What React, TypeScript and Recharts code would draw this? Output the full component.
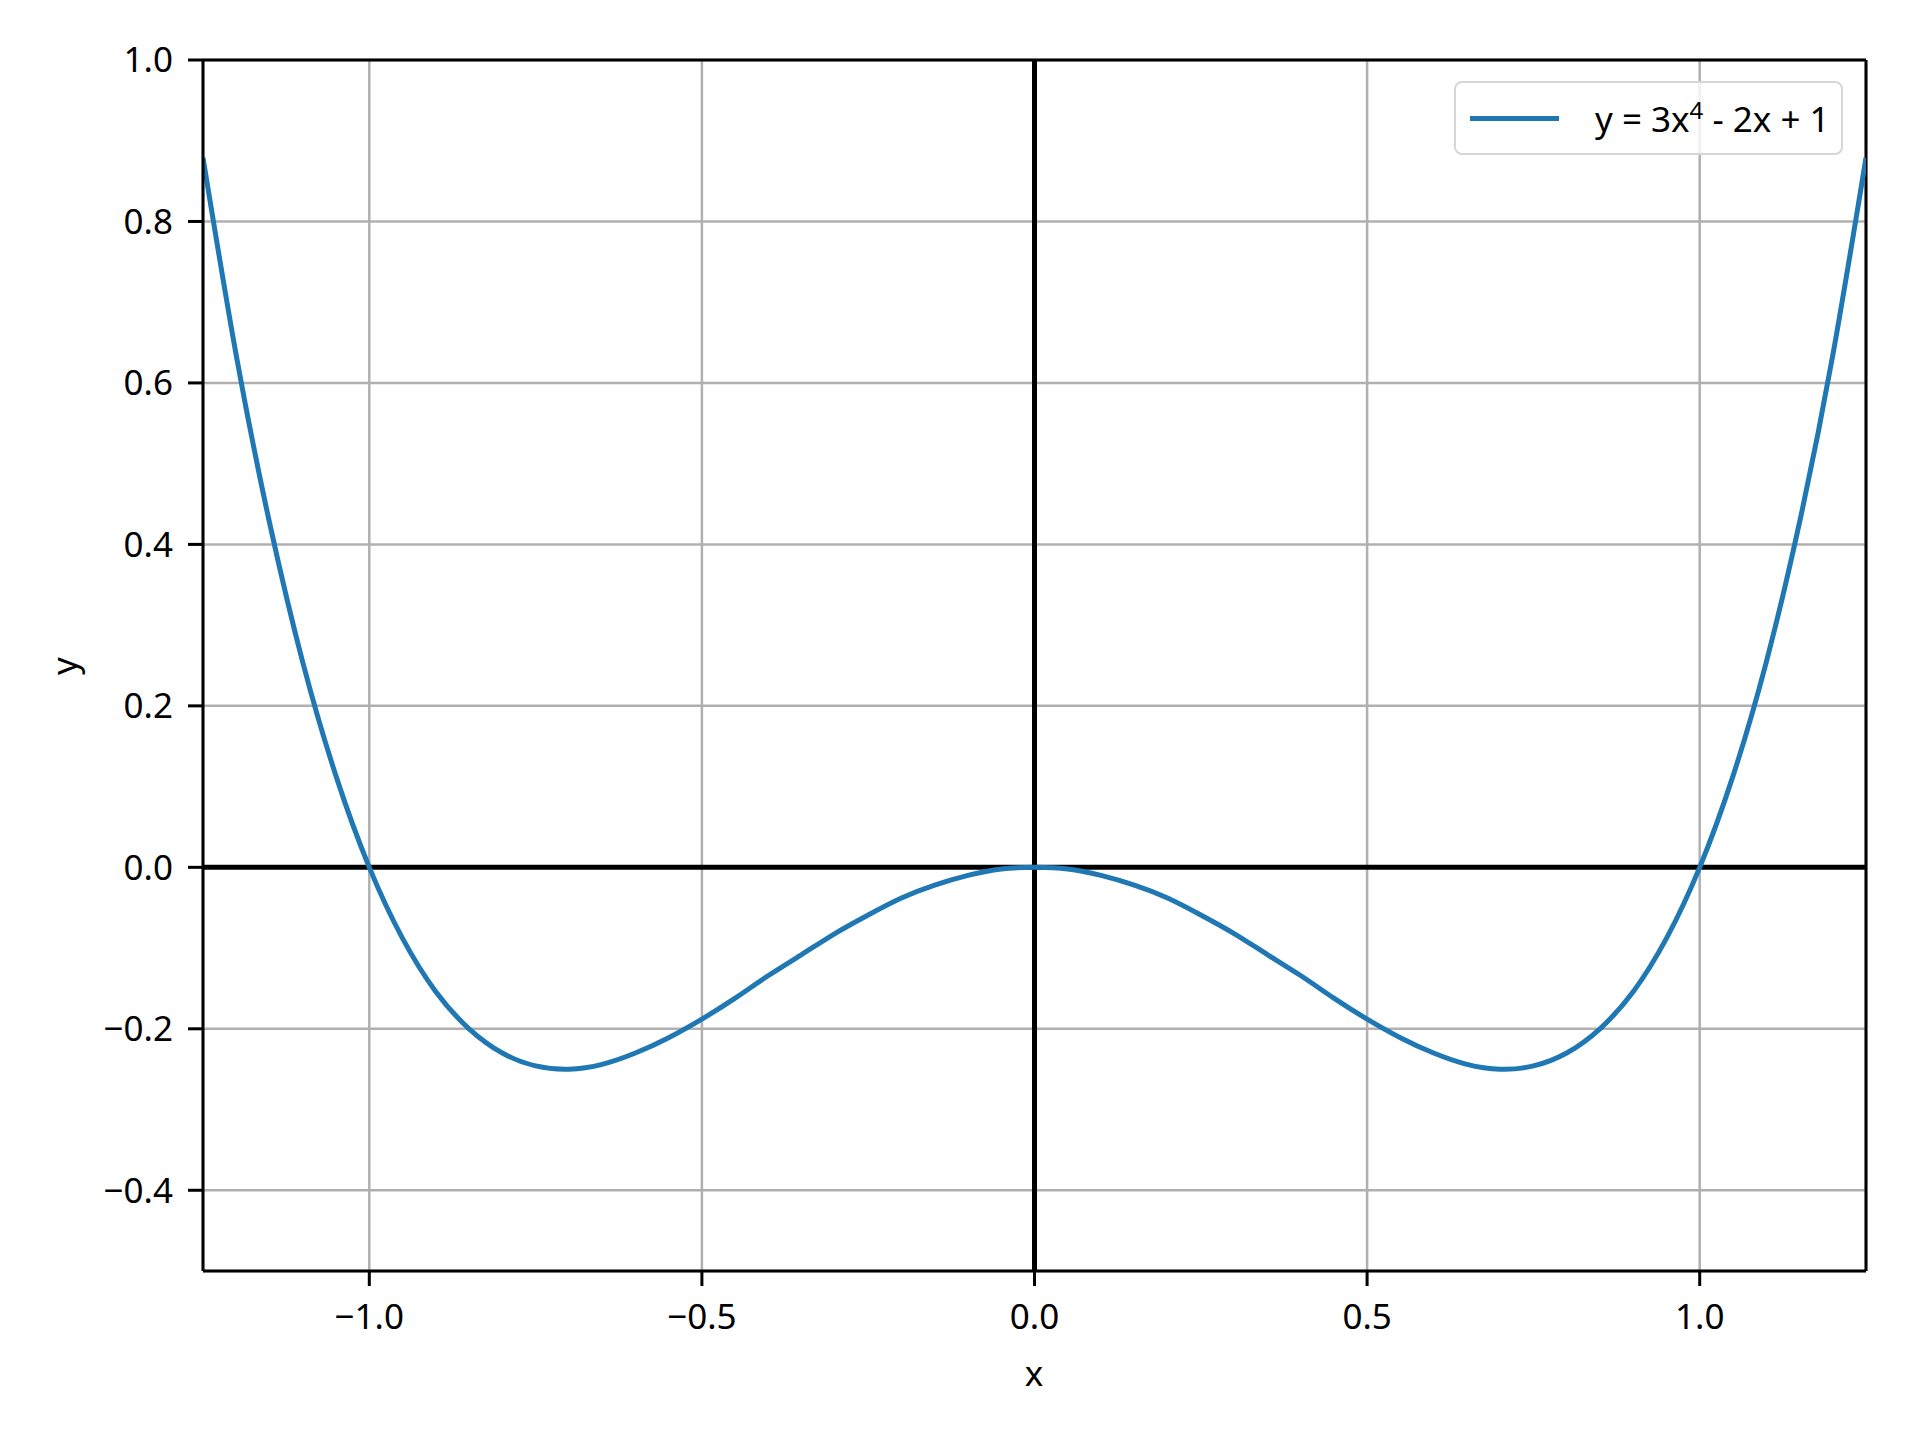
import React from 'react';
import { LineChart, Line, XAxis, YAxis, CartesianGrid, ReferenceLine, Legend } from 'recharts';

// x samples and the curve
const xValues = [
  -1.25, -1.2, -1.15, -1.1, -1.05, -1.0, -0.95, -0.9, -0.85, -0.8, -0.75, -0.7, -0.65,
  -0.6, -0.55, -0.5, -0.45, -0.4, -0.35, -0.3, -0.25, -0.2, -0.15, -0.1, -0.05, 0,
  0.05, 0.1, 0.15, 0.2, 0.25, 0.3, 0.35, 0.4, 0.45, 0.5, 0.55, 0.6, 0.65, 0.7, 0.75,
  0.8, 0.85, 0.9, 0.95, 1.0, 1.05, 1.1, 1.15, 1.2, 1.25,
];
const yValues = [
  0.879, 0.634, 0.427, 0.254, 0.113, 0, -0.088, -0.154, -0.2, -0.23, -0.246, -0.25, -0.244,
  -0.23, -0.211, -0.188, -0.162, -0.134, -0.108, -0.082, -0.059, -0.038, -0.022, -0.01, -0.002, 0,
  -0.002, -0.01, -0.022, -0.038, -0.059, -0.082, -0.108, -0.134, -0.162, -0.188, -0.211, -0.23, -0.244, -0.25, -0.246,
  -0.23, -0.2, -0.154, -0.088, 0, 0.113, 0.254, 0.427, 0.634, 0.879,
];
const xTicks = [-1.0, -0.5, 0.0, 0.5, 1.0];
const yTicks = [-0.4, -0.2, 0.0, 0.2, 0.4, 0.6, 0.8, 1.0];
const seriesName = 'y = 3x4 - 2x + 1';

const data = xValues.map((x, i) => ({ x, y: yValues[i] }));

const FONT = '"Noto Sans", sans-serif';
const fmt = (v: number) => v.toFixed(1).replace('-', '\u2212');

const tickStyle = { fill: '#000', fontSize: 35, fontFamily: FONT };

const LegendBox = () => (
  <div
    style={{
      width: 389,
      height: 74,
      boxSizing: 'border-box',
      border: '2.5px solid #d6d6d6',
      borderRadius: 8,
      background: 'rgba(255,255,255,0.8)',
      display: 'flex',
      alignItems: 'center',
      fontFamily: FONT,
      fontSize: 35,
      color: '#000',
    }}
  >
    <div style={{ width: 89, height: 5, background: '#1f77b4', marginLeft: 14, marginRight: 36 }} />
    <span>
      y = 3x<sup style={{ fontSize: 24, verticalAlign: 'super', lineHeight: 0 }}>4</sup> - 2x + 1
    </span>
  </div>
);

export default function App() {
  return (
    <div style={{ position: 'absolute', top: 0, left: 0, width: 1920, height: 1440, background: '#fff' }}>
      <LineChart
        width={1920}
        height={1440}
        data={data}
        margin={{ top: 60, right: 54, bottom: 69, left: 103 }}
      >
        <CartesianGrid stroke="#b0b0b0" strokeWidth={2.5} />
        <XAxis
          dataKey="x"
          type="number"
          domain={[-1.25, 1.25]}
          ticks={xTicks}
          allowDataOverflow
          tickFormatter={fmt}
          height={100}
          tickSize={15}
          tickMargin={18}
          tick={tickStyle}
          stroke="#000"
          strokeWidth={3}
          tickLine={{ stroke: '#000', strokeWidth: 3 }}
          label={{
            content: () => (
              <text x={1034} y={1372} textAnchor="middle" dominantBaseline="central" fontSize={35} fontFamily={FONT} fill="#000">
                x
              </text>
            ),
          }}
        />
        <YAxis
          type="number"
          domain={[-0.5, 1.0]}
          ticks={yTicks}
          allowDataOverflow
          tickFormatter={fmt}
          width={100}
          tickSize={15}
          tickMargin={15}
          tick={tickStyle}
          stroke="#000"
          strokeWidth={3}
          tickLine={{ stroke: '#000', strokeWidth: 3 }}
          label={{
            content: () => (
              <text x={63} y={666} transform="rotate(-90 63 666)" textAnchor="middle" dominantBaseline="central" fontSize={35} fontFamily={FONT} fill="#000">
                y
              </text>
            ),
          }}
        />
        <ReferenceLine y={1.0} stroke="#000" strokeWidth={3} />
        <ReferenceLine x={1.25} stroke="#000" strokeWidth={3} />
        <ReferenceLine y={0} stroke="#000" strokeWidth={5} />
        <ReferenceLine x={0} stroke="#000" strokeWidth={5} />
        <Line
          type="natural"
          dataKey="y"
          name={seriesName}
          stroke="#1f77b4"
          strokeWidth={5}
          dot={false}
          isAnimationActive={false}
        />
        <Legend
          layout="vertical"
          align="center"
          verticalAlign="middle"
          wrapperStyle={{ top: 81, left: 1454, width: 389 }}
          content={() => <LegendBox />}
        />
      </LineChart>
    </div>
  );
}
